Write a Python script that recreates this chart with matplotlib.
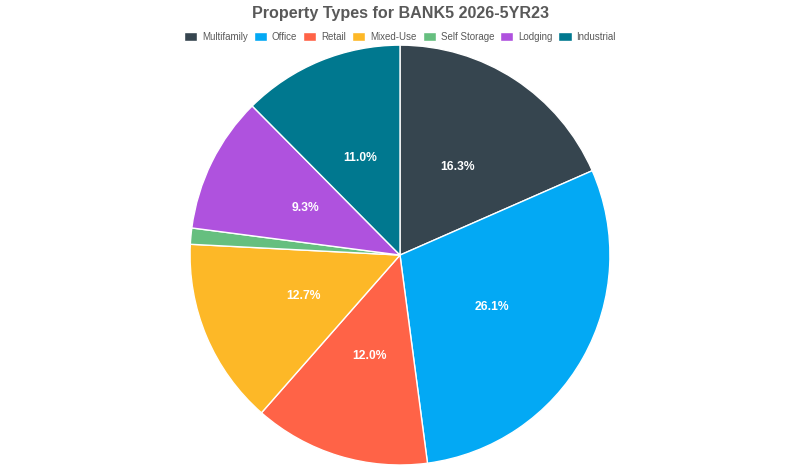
import numpy as np
import matplotlib.pyplot as plt

plt.rcParams['font.family'] = ['Liberation Sans', 'DejaVu Sans']

# ---- Data ----
categories = ['Multifamily', 'Office', 'Retail', 'Mixed-Use', 'Self Storage', 'Lodging', 'Industrial']
shares = [16.3, 26.1, 12.0, 12.7, 1.1, 9.3, 11.0]   # percent of deal balance
colors = ['#36454F', '#03A9F4', '#FF6347', '#FDB827', '#66BF7F', '#AF52DE', '#00788F']

fig = plt.figure(figsize=(8, 4.66), dpi=100)
ax = fig.add_axes([0.2375, 0.00215, 0.525, 0.901])

wedges, _ = ax.pie(shares, colors=colors, startangle=90, counterclock=False,
                   wedgeprops={'edgecolor': 'white', 'linewidth': 1})
ax.set_aspect('equal')
ax.set_xlim(-1.0, 1.0)
ax.set_ylim(-1.0, 1.0)

# labels: show the stated share, skip tiny slices
for w, v in zip(wedges, shares):
    if v < 5:
        continue
    ang = np.deg2rad((w.theta1 + w.theta2) / 2)
    ax.text(0.5 * np.cos(ang), 0.5 * np.sin(ang), f'{v:.1f}%', ha='center', va='center',
            color='white', fontsize=8.7, fontweight='bold')

fig.text(0.5, 0.972, 'Property Types for BANK5 2026-5YR23', ha='center', va='center',
         fontsize=11.6, fontweight='bold', color='#595959')

fig.legend(wedges, categories, loc='center', bbox_to_anchor=(0.5, 0.921), ncol=len(categories),
           frameon=False, fontsize=7, labelcolor='#595959', handlelength=1.35, handleheight=1.0,
           handletextpad=0.5, columnspacing=0.62, borderaxespad=0)

fig.savefig('out.png', dpi=100)
